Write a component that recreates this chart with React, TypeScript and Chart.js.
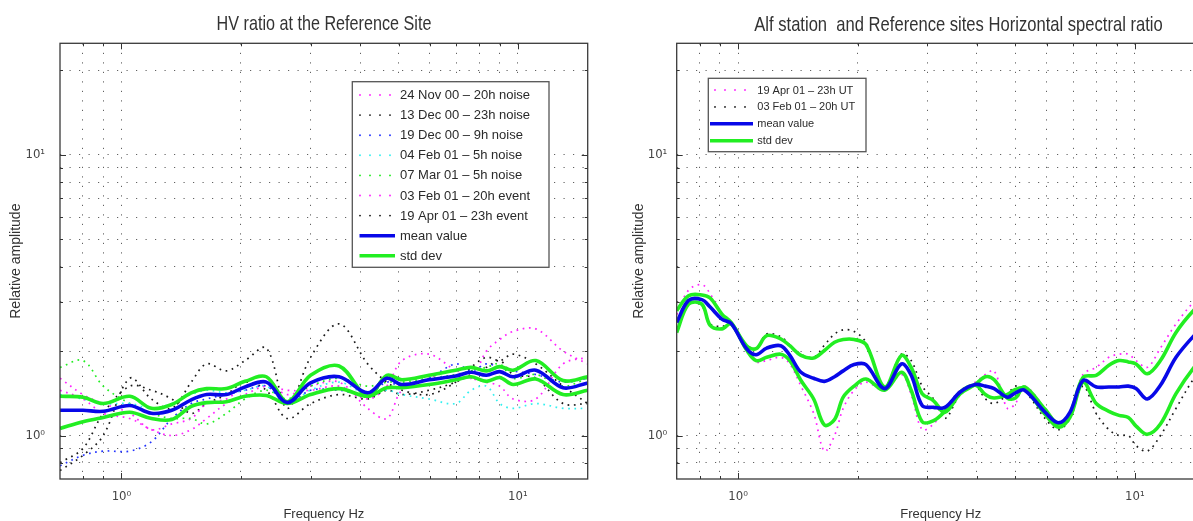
import React, { useEffect, useRef } from 'react';
import { Chart, registerables } from 'chart.js';

Chart.register(...registerables);

// ---------------- Left panel data (HV ratio at the Reference Site) ----------------
const leftFreq = [0.7, 0.8, 0.9, 1.05, 1.19, 1.34, 1.5, 1.64, 1.84, 2.05, 2.32, 2.62, 3.0, 3.54, 4.18, 4.67, 5.1, 5.97, 6.97, 7.62, 8.33, 9.0, 9.73, 11.1, 13.0, 15.0];
const leftMean = [1.23, 1.23, 1.22, 1.28, 1.2, 1.23, 1.34, 1.4, 1.4, 1.49, 1.55, 1.31, 1.54, 1.62, 1.42, 1.6, 1.52, 1.58, 1.63, 1.68, 1.64, 1.69, 1.62, 1.71, 1.48, 1.54];
const leftStdUpper = [1.38, 1.37, 1.3, 1.38, 1.25, 1.29, 1.42, 1.47, 1.47, 1.56, 1.62, 1.32, 1.64, 1.77, 1.38, 1.64, 1.58, 1.64, 1.71, 1.75, 1.7, 1.76, 1.71, 1.85, 1.57, 1.62];
const leftStdLower = [1.06, 1.12, 1.16, 1.21, 1.15, 1.14, 1.27, 1.31, 1.32, 1.38, 1.39, 1.3, 1.4, 1.47, 1.38, 1.48, 1.48, 1.52, 1.58, 1.62, 1.56, 1.61, 1.52, 1.59, 1.4, 1.45];
const nov24Noise = [1.45, 1.35, 1.2, 1.15, 1.05, 1.0, 1.05, 1.15, 1.3, 1.4, 1.5, 1.45, 1.45, 1.5, 1.35, 1.5, 1.85, 1.95, 1.7, 1.6, 2.0, 2.2, 2.35, 2.4, 2.0, 1.8];
const dec13Noise = [0.75, 0.85, 1.0, 1.6, 1.35, 1.25, 1.55, 1.8, 1.7, 1.85, 2.05, 1.25, 1.9, 2.5, 1.8, 1.55, 1.45, 1.4, 1.55, 1.75, 1.9, 1.85, 1.95, 1.8, 1.5, 1.3];
const dec19Noise = [0.78, 0.85, 0.88, 0.88, 0.95, 1.15, 1.3, 1.35, 1.4, 1.45, 1.5, 1.3, 1.45, 1.45, 1.4, 1.55, 1.5, 1.6, 1.8, 1.7, 1.8, 1.75, 1.7, 1.65, 1.55, 1.6];
const feb04Noise = [1.4, 1.35, 1.3, 1.3, 1.25, 1.3, 1.4, 1.45, 1.42, 1.45, 1.5, 1.3, 1.45, 1.55, 1.4, 1.45, 1.4, 1.35, 1.3, 1.45, 1.5, 1.3, 1.25, 1.3, 1.25, 1.25];
const mar07Noise = [1.75, 1.85, 1.5, 1.3, 1.2, 1.15, 1.15, 1.1, 1.2, 1.35, 1.45, 1.35, 1.5, 1.6, 1.5, 1.55, 1.55, 1.6, 1.65, 1.7, 1.75, 1.8, 1.6, 1.65, 1.5, 1.6];
const feb03Event = [1.6, 1.4, 1.3, 1.2, 1.05, 1.1, 1.15, 1.3, 1.35, 1.5, 1.55, 1.4, 1.5, 1.55, 1.25, 1.15, 1.45, 1.6, 1.7, 1.6, 1.55, 1.5, 1.35, 1.35, 1.8, 1.9];
const apr19Event = [0.8, 0.9, 1.2, 1.5, 1.45, 1.35, 1.2, 1.3, 1.4, 1.55, 1.45, 1.15, 1.3, 1.4, 1.35, 1.45, 1.4, 1.45, 1.55, 1.65, 1.75, 1.85, 1.65, 1.6, 1.3, 1.3];

const leftLegendLabels = ['24 Nov 00 – 20h noise', '13 Dec 00 – 23h noise', '19 Dec 00 – 9h noise', '04 Feb 01 – 5h noise', '07 Mar 01 – 5h noise', '03 Feb 01 – 20h event', '19 Apr 01 – 23h event', 'mean value', 'std dev'];

// ---------------- Right panel data (Alf station / Reference sites) ----------------
const rightFreq = [0.7, 0.75, 0.81, 0.85, 0.91, 0.96, 1.05, 1.11, 1.18, 1.28, 1.35, 1.44, 1.55, 1.65, 1.75, 1.84, 1.96, 2.1, 2.34, 2.58, 2.73, 2.91, 3.11, 3.32, 3.63, 3.96, 4.2, 4.42, 4.77, 5.0, 5.27, 5.94, 6.42, 6.86, 7.4, 7.99, 8.6, 9.12, 9.63, 10.07, 10.75, 11.6, 12.7, 14.1, 15.0];
const rightMean = [2.53, 3.03, 3.05, 2.87, 2.6, 2.51, 2.04, 1.94, 2.05, 2.09, 1.93, 1.68, 1.6, 1.56, 1.62, 1.7, 1.79, 1.79, 1.47, 1.8, 1.64, 1.28, 1.26, 1.26, 1.43, 1.52, 1.5, 1.47, 1.37, 1.42, 1.45, 1.21, 1.11, 1.21, 1.57, 1.49, 1.49, 1.49, 1.5, 1.47, 1.35, 1.51, 1.9, 2.27, 2.45];
const rightStdUpper = [2.79, 3.15, 3.17, 3.09, 2.71, 2.53, 2.09, 2.04, 2.27, 2.21, 2.09, 1.93, 1.89, 2.01, 2.15, 2.2, 2.2, 2.11, 1.49, 1.93, 1.75, 1.41, 1.33, 1.21, 1.41, 1.52, 1.62, 1.58, 1.36, 1.36, 1.49, 1.24, 1.1, 1.19, 1.61, 1.64, 1.78, 1.85, 1.83, 1.8, 1.66, 1.85, 2.33, 2.8, 3.0];
const rightStdLower = [2.33, 2.94, 2.94, 2.47, 2.4, 2.5, 2.02, 1.85, 1.9, 1.95, 1.85, 1.57, 1.35, 1.09, 1.14, 1.37, 1.5, 1.59, 1.45, 1.68, 1.45, 1.12, 1.13, 1.22, 1.43, 1.51, 1.4, 1.36, 1.4, 1.46, 1.47, 1.19, 1.07, 1.16, 1.55, 1.3, 1.22, 1.18, 1.16, 1.08, 1.01, 1.1, 1.41, 1.75, 1.9];
const apr19UT = [2.7, 3.3, 3.45, 3.2, 2.7, 2.5, 2.05, 1.83, 1.85, 1.9, 1.8, 1.5, 1.2, 0.88, 1.0, 1.25, 1.45, 1.55, 1.45, 1.65, 1.4, 1.05, 1.1, 1.25, 1.45, 1.55, 1.65, 1.7, 1.25, 1.3, 1.5, 1.25, 1.1, 1.2, 1.65, 1.75, 1.9, 1.95, 1.95, 1.85, 1.75, 2.05, 2.5, 3.0, 3.2];
const feb03UT = [2.4, 2.95, 2.9, 2.5, 2.45, 2.5, 2.1, 2.05, 2.3, 2.25, 2.1, 1.95, 1.9, 2.1, 2.3, 2.38, 2.35, 2.15, 1.5, 1.95, 1.85, 1.5, 1.35, 1.15, 1.4, 1.5, 1.35, 1.3, 1.4, 1.5, 1.45, 1.15, 1.05, 1.15, 1.5, 1.2, 1.05, 1.0, 1.0, 0.92, 0.88, 1.0, 1.25, 1.6, 1.75];

const rightLegendLabels = ['19 Apr 01 – 23h UT', '03 Feb 01 – 20h UT', 'mean value', 'std dev'];

// ---------------- Axes ----------------
const xGridValues = [0.8, 0.9, 1, 2, 3, 4, 5, 6, 7, 8, 9, 10];
const yGridValues = [0.8, 0.9, 1, 2, 3, 4, 5, 6, 7, 8, 9, 10, 20];
const majorTickValues = [1, 10];
const majorTickLabels = ['10⁰', '10¹'];

const C_MAG = '#ff22ff';
const C_BLK = '#1a1a1a';
const C_BLUE_DOT = '#2233ff';
const C_CYAN = '#33f0f0';
const C_GREEN_DOT = '#22ee22';
const C_MEAN = '#0808e8';
const C_STD = '#22ee22';

const FONT_SANS = "'Liberation Sans', Arial, Helvetica, sans-serif";
const FONT_NARROW = "'Liberation Sans Narrow', 'DejaVu Sans Condensed', 'Liberation Sans', sans-serif";

const tickLabel = (v: number) => {
  const i = majorTickValues.findIndex((m) => Math.abs(m - v) < 1e-9);
  return i >= 0 ? majorTickLabels[i] : '';
};

const makeDataset = (freq: number[], vals: number[], color: string, solid: boolean, order: number) => ({
  data: freq.map((f, i) => ({ x: f, y: vals[i] })),
  borderColor: color,
  backgroundColor: color,
  borderWidth: solid ? 3.6 : 1.7,
  borderDash: solid ? [] : [1.7, 4.6],
  pointRadius: 0,
  tension: 0.35,
  fill: false,
  order,
});

type LegendItem = { label: string; color: string; solid: boolean };

const framePlugin = {
  id: 'frame',
  afterDraw(chart: any, _args: any, opts: any) {
    const { ctx, chartArea: a, scales } = chart;
    ctx.save();
    ctx.setLineDash([]);
    // inward ticks
    ctx.strokeStyle = '#333';
    ctx.lineWidth = 1;
    xGridValues.forEach((v) => {
      const px = Math.round(scales.x.getPixelForValue(v)) + 0.5;
      const len = majorTickValues.includes(v) ? 6 : 3;
      ctx.beginPath();
      ctx.moveTo(px, a.bottom);
      ctx.lineTo(px, a.bottom - len);
      ctx.moveTo(px, a.top);
      ctx.lineTo(px, a.top + len);
      ctx.stroke();
    });
    yGridValues.forEach((v) => {
      const py = Math.round(scales.y.getPixelForValue(v)) + 0.5;
      const len = majorTickValues.includes(v) ? 6 : 3;
      ctx.beginPath();
      ctx.moveTo(a.left, py);
      ctx.lineTo(a.left + len, py);
      ctx.moveTo(a.right, py);
      ctx.lineTo(a.right - len, py);
      ctx.stroke();
    });
    // box
    ctx.strokeStyle = '#3a3a3a';
    ctx.lineWidth = 1.3;
    ctx.strokeRect(a.left, a.top, a.right - a.left, a.bottom - a.top);

    // title
    ctx.save();
    ctx.fillStyle = '#333';
    ctx.font = `21px ${FONT_SANS}`;
    ctx.textAlign = 'center';
    ctx.textBaseline = 'middle';
    ctx.translate(opts.titleX, opts.titleY);
    ctx.scale(opts.titleScale, 1);
    ctx.fillText(opts.title, 0, 0);
    ctx.restore();

    // legend
    const lg = opts.legend;
    const [bx1, by1, bx2, by2] = lg.box;
    ctx.fillStyle = '#ffffff';
    ctx.fillRect(bx1, by1, bx2 - bx1, by2 - by1);
    ctx.strokeStyle = '#555';
    ctx.lineWidth = 1.3;
    ctx.strokeRect(bx1, by1, bx2 - bx1, by2 - by1);
    ctx.font = `${lg.fontSize}px ${FONT_SANS}`;
    ctx.textAlign = 'left';
    ctx.textBaseline = 'middle';
    (lg.items as LegendItem[]).forEach((it, i) => {
      const y = lg.rowY + i * lg.rowStep;
      if (it.solid) {
        ctx.strokeStyle = it.color;
        ctx.lineWidth = 3.6;
        ctx.beginPath();
        ctx.moveTo(lg.lineX1, y);
        ctx.lineTo(lg.lineX2, y);
        ctx.stroke();
      } else {
        ctx.fillStyle = it.color;
        for (let k = 0; k < 4; k++) {
          ctx.beginPath();
          ctx.arc(lg.dotX + k * 10, y, 0.95, 0, Math.PI * 2);
          ctx.fill();
        }
      }
      ctx.fillStyle = '#2a2a2a';
      ctx.fillText(it.label, lg.textX, y + 0.5);
    });
    ctx.restore();
  },
};

type PanelCfg = {
  width: number;
  padRight: number;
  yWidth: number;
  yTickPad: number;
  yTitlePad: number;
  datasets: any[];
  frame: any;
};

const buildOptions = (cfg: PanelCfg) => ({
  responsive: false,
  maintainAspectRatio: false,
  animation: false,
  events: [],
  layout: { padding: { left: 0, right: cfg.padRight, top: 43.3, bottom: 0 } },
  plugins: {
    legend: { display: false },
    title: { display: false },
    tooltip: { enabled: false },
    frame: cfg.frame,
  },
  scales: {
    x: {
      type: 'logarithmic',
      min: 0.7,
      max: 15,
      afterBuildTicks: (s: any) => {
        s.ticks = xGridValues.map((v) => ({ value: v }));
      },
      afterFit: (s: any) => {
        s.height = 42;
      },
      grid: { color: 'rgba(0,0,0,0.62)', lineWidth: 1, drawTicks: false },
      border: { display: false, dash: [1.2, 8.3] },
      ticks: {
        autoSkip: false,
        maxRotation: 0,
        minRotation: 0,
        padding: 10,
        color: '#444',
        font: { family: FONT_NARROW, size: 13 },
        callback: (v: any) => tickLabel(Number(v)),
      },
      title: {
        display: true,
        text: 'Frequency Hz',
        color: '#333',
        font: { family: FONT_SANS, size: 13, lineHeight: 1 },
        padding: { top: 0, bottom: 0 },
      },
    },
    y: {
      type: 'logarithmic',
      min: 0.7,
      max: 25,
      afterBuildTicks: (s: any) => {
        s.ticks = yGridValues.map((v) => ({ value: v }));
      },
      afterFit: (s: any) => {
        s.width = cfg.yWidth;
      },
      grid: { color: 'rgba(0,0,0,0.62)', lineWidth: 1, drawTicks: false },
      border: { display: false, dash: [1.2, 8.3] },
      ticks: {
        autoSkip: false,
        padding: cfg.yTickPad,
        color: '#444',
        font: { family: FONT_NARROW, size: 13 },
        callback: (v: any) => tickLabel(Number(v)),
      },
      title: {
        display: true,
        text: 'Relative amplitude',
        color: '#333',
        font: { family: FONT_SANS, size: 14, lineHeight: 1 },
        padding: { top: cfg.yTitlePad, bottom: 0 },
      },
    },
  },
});

function Panel({ cfg, left }: { cfg: PanelCfg; left: number }) {
  const ref = useRef<HTMLCanvasElement | null>(null);
  useEffect(() => {
    if (!ref.current) return;
    const chart = new Chart(ref.current, {
      type: 'line',
      data: { datasets: cfg.datasets },
      options: buildOptions(cfg) as any,
      plugins: [framePlugin as any],
    });
    return () => chart.destroy();
  }, []);
  return (
    <div style={{ position: 'absolute', left, top: 0, width: cfg.width, height: 521 }}>
      <canvas ref={ref} width={cfg.width} height={521} style={{ width: cfg.width, height: 521, display: 'block' }} />
    </div>
  );
}

const leftColors = [C_MAG, C_BLK, C_BLUE_DOT, C_CYAN, C_GREEN_DOT, C_MAG, C_BLK, C_MEAN, C_STD];
const rightColors = [C_MAG, C_BLK, C_MEAN, C_STD];

const leftCfg: PanelCfg = {
  width: 600,
  padRight: 12.3,
  yWidth: 60,
  yTickPad: 15,
  yTitlePad: 9,
  datasets: [
    makeDataset(leftFreq, leftMean, C_MEAN, true, 0),
    makeDataset(leftFreq, leftStdUpper, C_STD, true, 1),
    makeDataset(leftFreq, leftStdLower, C_STD, true, 1),
    makeDataset(leftFreq, nov24Noise, C_MAG, false, 2),
    makeDataset(leftFreq, dec13Noise, C_BLK, false, 2),
    makeDataset(leftFreq, dec19Noise, C_BLUE_DOT, false, 2),
    makeDataset(leftFreq, feb04Noise, C_CYAN, false, 2),
    makeDataset(leftFreq, mar07Noise, C_GREEN_DOT, false, 2),
    makeDataset(leftFreq, feb03Event, C_MAG, false, 2),
    makeDataset(leftFreq, apr19Event, C_BLK, false, 2),
  ],
  frame: {
    title: 'HV ratio at the Reference Site',
    titleX: 324,
    titleY: 24,
    titleScale: 0.77,
    legend: {
      box: [352.3, 81.7, 549, 267.3],
      rowY: 95,
      rowStep: 20.1,
      lineX1: 359.5,
      lineX2: 395,
      dotX: 360,
      textX: 400,
      fontSize: 13,
      items: leftLegendLabels.map((label, i) => ({ label, color: leftColors[i], solid: i >= 7 })),
    },
  },
};

const rightCfg: PanelCfg = {
  width: 650,
  padRight: 45.3,
  yWidth: 76.7,
  yTickPad: 9.4,
  yTitlePad: 32,
  datasets: [
    makeDataset(rightFreq, rightMean, C_MEAN, true, 0),
    makeDataset(rightFreq, rightStdUpper, C_STD, true, 1),
    makeDataset(rightFreq, rightStdLower, C_STD, true, 1),
    makeDataset(rightFreq, apr19UT, C_MAG, false, 2),
    makeDataset(rightFreq, feb03UT, C_BLK, false, 2),
  ],
  frame: {
    title: 'Alf station  and Reference sites Horizontal spectral ratio',
    titleX: 358.5,
    titleY: 25,
    titleScale: 0.79,
    legend: {
      box: [108.3, 78.3, 266, 151.7],
      rowY: 90,
      rowStep: 16.9,
      lineX1: 110,
      lineX2: 153,
      dotX: 115,
      textX: 157.3,
      fontSize: 11,
      items: rightLegendLabels.map((label, i) => ({ label, color: rightColors[i], solid: i >= 2 })),
    },
  },
};

export default function App() {
  return (
    <div style={{ position: 'absolute', left: 0, top: 0, width: 1193, height: 521, overflow: 'hidden', background: '#ffffff' }}>
      <Panel cfg={leftCfg} left={0} />
      <Panel cfg={rightCfg} left={600} />
    </div>
  );
}
